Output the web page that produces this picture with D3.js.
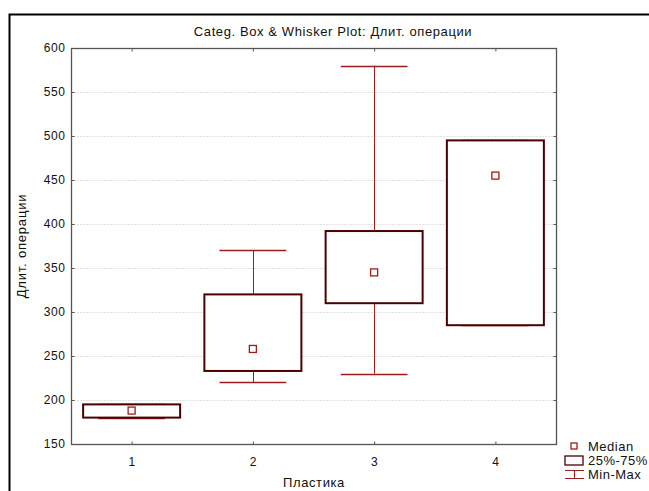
<!DOCTYPE html>
<html>
<head>
    <meta charset="utf-8">
    <title>Categ. Box & Whisker Plot</title>
    <script type="text/javascript" src="https://cdn.jsdelivr.net/npm/d3@7/dist/d3.min.js"></script>
    <style>
        body { margin: 0; background: white; }
        text { font-family: Arial, 'Liberation Sans', sans-serif; fill: #111; }
    </style>
</head>
<body>
<script type="text/javascript">
    // values
    var categories = ['1', '2', '3', '4'];
    var mins = [180, 220, 230, 285];
    var q1s = [180, 233, 310, 285];
    var medians = [188, 258, 345, 455];
    var q3s = [195, 320, 392, 495];
    var maxs = [195, 370, 580, 495];
    var yTicks = [150, 200, 250, 300, 350, 400, 450, 500, 550, 600];

    var width = 649;
    var height = 491;
    // plot area edges (window.top is reserved, so prefixed names)
    var pLeft = 71, pRight = 556, pTop = 48, pBottom = 444;
    var boxColor = '#4a0000';
    var whiskColor = '#a01c1c';

    var svg = d3.select('body').append('svg')
                .attr('width', width)
                .attr('height', height);

    // outer frame, runs past the window on the right and bottom
    svg.append('rect')
        .attr('x', 9.5).attr('y', 14.5)
        .attr('width', 700).attr('height', 600)
        .attr('fill', 'none').attr('stroke', 'black').attr('stroke-width', 2);

    var x = d3.scaleBand().domain(categories).range([pLeft, pRight]).padding(0);
    var y = d3.scaleLinear().domain([150, 600]).range([pBottom, pTop]);

    // grid lines
    svg.append('g').selectAll('line')
        .data(yTicks.filter(function(d) { return d > 150 && d < 600; }))
        .enter().append('line')
        .attr('x1', pLeft).attr('x2', pRight)
        .attr('y1', function(d) { return y(d) + 0.5; })
        .attr('y2', function(d) { return y(d) + 0.5; })
        .attr('stroke', '#e2e2e2')
        .attr('stroke-dasharray', '2,1');

    // axes, ticks pointing inside
    var xPoint = function(d) { return x(d) + x.bandwidth() / 2; };
    var xp = d3.scalePoint().domain(categories).range([xPoint('1'), xPoint('4')]);
    var axisLeft = svg.append('g').attr('transform', 'translate(' + (pLeft + 0.5) + ',0)')
        .call(d3.axisLeft(y).tickValues(yTicks).tickSizeInner(-3).tickSizeOuter(0).tickPadding(6));
    var axisRight = svg.append('g').attr('transform', 'translate(' + (pRight + 0.5) + ',0)')
        .call(d3.axisRight(y).tickValues(yTicks).tickSizeInner(-3).tickSizeOuter(0).tickFormat(''));
    var axisBottom = svg.append('g').attr('transform', 'translate(0,' + (pBottom + 0.5) + ')')
        .call(d3.axisBottom(xp).tickSizeInner(-3).tickSizeOuter(0).tickPadding(13));
    var axisTop = svg.append('g').attr('transform', 'translate(0,' + (pTop + 0.5) + ')')
        .call(d3.axisTop(xp).tickSizeInner(-3).tickSizeOuter(0).tickFormat(''));
    [axisLeft, axisRight, axisBottom, axisTop].forEach(function(a) {
        a.select('.domain').remove();
        a.selectAll('line').attr('stroke', '#555');
        a.selectAll('text').attr('font-size', 12).attr('fill', '#111')
            .attr('letter-spacing', 0.6)
            .style('font-family', "Arial, 'Liberation Sans', sans-serif");
    });
    svg.append('rect')
        .attr('x', pLeft + 0.5).attr('y', pTop + 0.5)
        .attr('width', pRight - pLeft).attr('height', pBottom - pTop)
        .attr('fill', 'none').attr('stroke', '#555').attr('stroke-width', 1.3);

    // boxes
    var groups = svg.append('g').selectAll('g')
        .data(categories).enter().append('g');
    var bw = x.bandwidth();

    groups.append('line')
        .attr('x1', function(d) { return Math.round(xPoint(d)) + 0.5; })
        .attr('x2', function(d) { return Math.round(xPoint(d)) + 0.5; })
        .attr('y1', function(d, i) { return y(maxs[i]); })
        .attr('y2', function(d, i) { return y(q3s[i]); })
        .attr('stroke', whiskColor);
    groups.append('line')
        .attr('x1', function(d) { return Math.round(xPoint(d)) + 0.5; })
        .attr('x2', function(d) { return Math.round(xPoint(d)) + 0.5; })
        .attr('y1', function(d, i) { return y(q1s[i]); })
        .attr('y2', function(d, i) { return y(mins[i]); })
        .attr('stroke', whiskColor);
    ['max', 'min'].forEach(function(k) {
        groups.append('line')
            .attr('x1', function(d) { return xPoint(d) - bw * 0.275; })
            .attr('x2', function(d) { return xPoint(d) + bw * 0.275; })
            .attr('y1', function(d, i) { return Math.round(y(k === 'max' ? maxs[i] : mins[i])) + 0.5; })
            .attr('y2', function(d, i) { return Math.round(y(k === 'max' ? maxs[i] : mins[i])) + 0.5; })
            .attr('stroke', whiskColor).attr('stroke-width', 1.5);
    });
    groups.append('rect')
        .attr('x', function(d) { return xPoint(d) - bw * 0.4; })
        .attr('width', bw * 0.8)
        .attr('y', function(d, i) { return y(q3s[i]); })
        .attr('height', function(d, i) { return y(q1s[i]) - y(q3s[i]); })
        .attr('fill', 'white').attr('stroke', boxColor).attr('stroke-width', 2);
    groups.append('rect')
        .attr('x', function(d) { return xPoint(d) - 3.5; })
        .attr('y', function(d, i) { return y(medians[i]) - 3.5; })
        .attr('width', 7).attr('height', 7)
        .attr('fill', 'white').attr('stroke', whiskColor).attr('stroke-width', 1.3);

    // titles
    svg.append('text').attr('x', 333).attr('y', 36)
        .attr('text-anchor', 'middle').attr('font-size', 13).attr('letter-spacing', 0.6)
        .text('Categ. Box & Whisker Plot: Длит. операции');
    svg.append('text').attr('x', 314).attr('y', 487)
        .attr('text-anchor', 'middle').attr('font-size', 13).attr('letter-spacing', 0.6)
        .text('Пластика');
    svg.append('text')
        .attr('transform', 'translate(26,' + ((pTop + pBottom) / 2) + ') rotate(-90)')
        .attr('text-anchor', 'middle').attr('font-size', 13).attr('letter-spacing', 0.8)
        .text('Длит. операции');

    // legend
    var lg = svg.append('g');
    lg.append('rect').attr('x', 571).attr('y', 443).attr('width', 6).attr('height', 6)
        .attr('fill', 'white').attr('stroke', whiskColor).attr('stroke-width', 1.3);
    lg.append('text').attr('x', 588).attr('y', 451).attr('font-size', 13).attr('letter-spacing', 0.5).text('Median');
    lg.append('rect').attr('x', 565).attr('y', 456).attr('width', 18).attr('height', 9)
        .attr('fill', 'white').attr('stroke', boxColor).attr('stroke-width', 1.3);
    lg.append('text').attr('x', 588).attr('y', 465).attr('font-size', 13).attr('letter-spacing', 0.5).text('25%-75%');
    lg.append('line').attr('x1', 565).attr('x2', 584).attr('y1', 470.5).attr('y2', 470.5).attr('stroke', whiskColor);
    lg.append('line').attr('x1', 574.5).attr('x2', 574.5).attr('y1', 470.5).attr('y2', 478.5).attr('stroke', whiskColor);
    lg.append('line').attr('x1', 565).attr('x2', 584).attr('y1', 478.5).attr('y2', 478.5).attr('stroke', whiskColor);
    lg.append('text').attr('x', 588).attr('y', 479).attr('font-size', 13).attr('letter-spacing', 0.5).text('Min-Max');
</script>
</body>
</html>
